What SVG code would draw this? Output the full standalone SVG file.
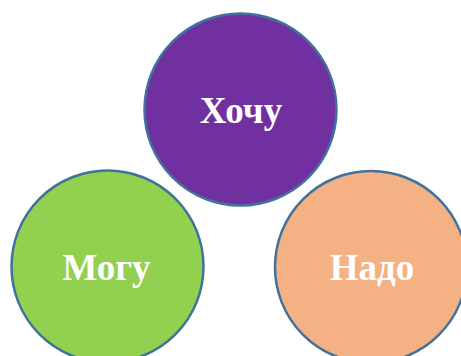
<svg xmlns="http://www.w3.org/2000/svg" width="461" height="356" viewBox="0 0 461 356">
<style>
.c{stroke:#41719C;stroke-width:2.5}
.t{font-family:"Liberation Serif","Times New Roman",serif;font-weight:bold;font-size:37px;fill:#fff;text-anchor:middle}
</style>
<rect width="461" height="356" fill="#fff"/>
<g id="node-hochu">
<circle class="c" cx="240.5" cy="109.5" r="96" fill="#7030A0"/>
<text class="t" x="241" y="123">Хочу</text>
</g>
<g id="node-mogu">
<circle class="c" cx="107.5" cy="266.5" r="96" fill="#92D050"/>
<text class="t" x="106.5" y="280">Могу</text>
</g>
<g id="node-nado">
<circle class="c" cx="371" cy="267" r="96" fill="#F4B183"/>
<text class="t" x="372" y="280">Надо</text>
</g>
<g id="connectors"></g>
</svg>
